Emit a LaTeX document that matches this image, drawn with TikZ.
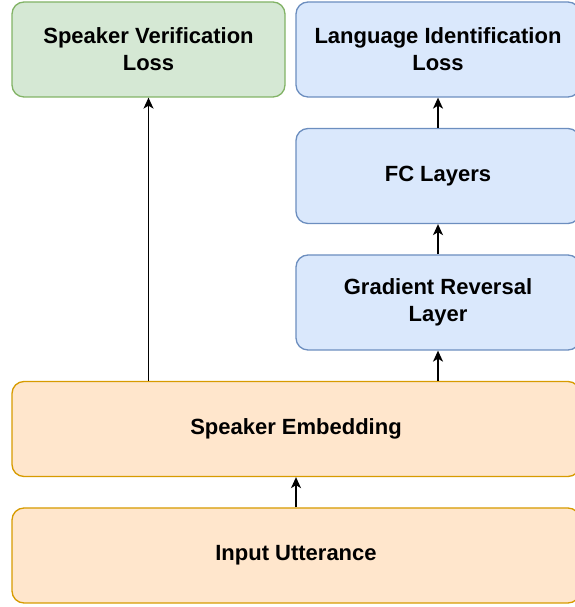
\documentclass[tikz,border=0pt]{standalone}
\usepackage{fontspec}
\setmainfont{Liberation Sans}
\usetikzlibrary{arrows.meta,positioning}
\usepackage{xcolor}
\definecolor{boxgreen}{RGB}{213,232,212}
\definecolor{edgegreen}{RGB}{130,179,102}
\definecolor{boxblue}{RGB}{218,232,252}
\definecolor{edgeblue}{RGB}{108,142,191}
\definecolor{boxorange}{RGB}{255,230,204}
\definecolor{edgeorange}{RGB}{215,155,0}

\begin{document}
\begin{tikzpicture}[x=1pt, y=1pt,
  node distance=30.2pt,
  blk/.style={rectangle, rounded corners=12pt, minimum height=95pt, align=center, font=\fontsize{22}{27}\selectfont\bfseries, line width=1.3pt},
  arr/.style={-{Stealth[length=11pt,width=10pt,inset=3pt]}, line width=1.4pt}
]
\useasboundingbox (0,0) rectangle (574,607);

\node[blk, fill=boxorange, draw=edgeorange, minimum width=568pt] (inp) at (296,51.5) {Input Utterance};
\node[blk, fill=boxorange, draw=edgeorange, minimum width=568pt, above=of inp] (emb) {Speaker Embedding};
\node[blk, fill=boxblue, draw=edgeblue, minimum width=284pt, above=30.2pt of emb.north east, anchor=south east] (grl) {Gradient Reversal\\Layer};
\node[blk, fill=boxblue, draw=edgeblue, minimum width=284pt, above=of grl] (fc) {FC Layers};
\node[blk, fill=boxblue, draw=edgeblue, minimum width=284pt, above=of fc] (lid) {Language Identification\\Loss};
\node[blk, fill=boxgreen, draw=edgegreen, minimum width=273pt, anchor=south west] (sv) at (emb.west |- lid.south) {Speaker Verification\\Loss};

\foreach \a/\b in {inp/emb,grl/fc,fc/lid}
  \draw[arr] (\a) -- (\b);
\draw[arr] (emb.north -| grl) -- (grl);
\draw[arr] (emb.north -| sv) -- (sv);
\end{tikzpicture}
\end{document}
